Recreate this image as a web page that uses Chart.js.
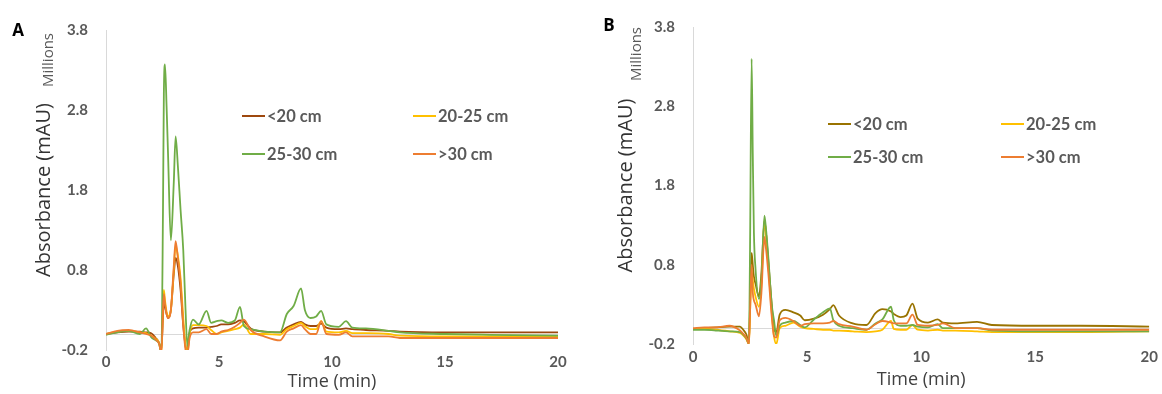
<!DOCTYPE html>
<html>
<head>
<meta charset="utf-8">
<script src="https://cdn.jsdelivr.net/npm/chart.js@4.4.1/dist/chart.umd.min.js"></script>
<style>
  body { margin: 0; background: #fff; width: 1162px; height: 394px; overflow: hidden; position: relative; }
  canvas { position: absolute; top: 0; }
  #chartA { left: 0; }
  #chartB { left: 580px; }
  .tag { position: absolute; font: bold 17px 'Open Sans', sans-serif; color: #000; transform: translate(-50%, -50%); }
  .mil { position: absolute; font: 15px 'Open Sans', sans-serif; color: #595959; transform: translate(-50%, -50%) rotate(-90deg); white-space: nowrap; }
  .leg { position: absolute; font: bold 16.5px Lato, sans-serif; color: #595959; display: flex; align-items: center; white-space: nowrap; transform: translateY(-50%); }
  .leg i { display: inline-block; width: 23px; height: 2px; margin-right: 2px; }
</style>
</head>
<body>
<canvas id="chartA" width="580" height="394"></canvas>
<canvas id="chartB" width="582" height="394"></canvas>

<script>
// étiquettes et couleurs des séries
const seriesLabels = ["<20 cm", "20-25 cm", "25-30 cm", ">30 cm"];
const colorsA = ["#9E480E", "#FFC000", "#70AD47", "#ED7D31"];
const colorsB = ["#997300", "#FFC000", "#70AD47", "#ED7D31"];

// graduations des axes
const yTicks = [-0.2, 0.8, 1.8, 2.8, 3.8];
const xTicks = [0, 5, 10, 15, 20];

// Panneau A : temps (min) et absorbance (millions)
const timeA = [0, 0.5, 1.0, 1.5, 1.77, 2.0, 2.2, 2.35, 2.45, 2.52, 2.56, 2.61, 2.68, 2.75, 2.87, 3.0, 3.08, 3.18, 3.3, 3.42, 3.52, 3.6, 3.7, 3.85, 4.1, 4.45, 4.65, 4.9, 5.1, 5.4, 5.7, 5.93, 6.1, 6.4, 7.0, 7.7, 8.0, 8.3, 8.63, 8.8, 9.05, 9.3, 9.52, 9.75, 10.3, 10.62, 10.9, 11.5, 12.5, 13.0, 15.0, 17.0, 20.0];
const a_lt20 = [0.0, 0.02, 0.03, 0.03, 0.02, 0.01, -0.05, -0.11, -0.2, 0.2, 0.4, 0.35, 0.25, 0.2, 0.3, 0.75, 0.95, 0.85, 0.55, 0.1, -0.15, -0.22, 0.02, 0.07, 0.08, 0.08, 0.09, 0.1, 0.12, 0.12, 0.14, 0.17, 0.16, 0.07, 0.03, 0.02, 0.08, 0.12, 0.15, 0.12, 0.1, 0.1, 0.13, 0.08, 0.06, 0.07, 0.06, 0.05, 0.04, 0.03, 0.02, 0.02, 0.02];
const a_20_25 = [0.0, 0.03, 0.04, 0.02, 0.01, -0.02, -0.06, -0.11, -0.24, 0.35, 0.55, 0.42, 0.28, 0.22, 0.3, 0.8, 1.1, 0.98, 0.7, 0.2, -0.15, -0.25, 0.0, 0.11, 0.11, 0.1, 0.05, 0.0, 0.02, 0.04, 0.06, 0.08, 0.12, 0.0, 0.0, -0.01, 0.06, 0.1, 0.14, 0.1, 0.06, 0.06, 0.16, 0.03, 0.02, 0.04, 0.01, 0.01, 0.0, -0.02, -0.03, -0.03, -0.03];
const a_25_30 = [-0.01, 0.02, 0.04, 0.0, 0.07, -0.04, -0.08, -0.12, -0.24, 1.5, 3.0, 3.37, 2.85, 2.2, 1.17, 1.9, 2.47, 2.1, 1.55, 1.04, 0.3, -0.15, 0.05, 0.18, 0.12, 0.29, 0.14, 0.16, 0.17, 0.14, 0.17, 0.34, 0.1, 0.06, 0.03, 0.02, 0.25, 0.35, 0.57, 0.3, 0.2, 0.22, 0.29, 0.12, 0.09, 0.16, 0.08, 0.07, 0.04, 0.02, 0.0, -0.01, -0.02];
const a_gt30 = [0.0, 0.04, 0.05, 0.02, 0.0, -0.02, -0.07, -0.12, -0.24, 0.3, 0.5, 0.38, 0.25, 0.2, 0.3, 0.85, 1.16, 0.95, 0.64, 0.1, -0.2, -0.25, -0.05, 0.02, 0.02, 0.06, 0.0, 0.0, 0.03, 0.05, 0.09, 0.14, 0.18, 0.05, -0.03, -0.08, 0.03, 0.07, 0.11, 0.06, 0.0, 0.0, 0.16, 0.0, -0.01, 0.02, -0.03, -0.03, -0.03, -0.05, -0.05, -0.05, -0.05];

// Panneau B
const timeB = [0, 0.5, 1.0, 1.6, 2.06, 2.2, 2.34, 2.45, 2.5, 2.57, 2.62, 2.67, 2.74, 2.89, 3.0, 3.13, 3.2, 3.3, 3.45, 3.55, 3.65, 3.8, 4.05, 4.4, 4.7, 4.9, 5.3, 5.7, 6.0, 6.15, 6.4, 7.0, 7.6, 8.0, 8.3, 8.68, 8.8, 9.1, 9.35, 9.62, 9.85, 10.3, 10.72, 10.95, 11.5, 12.45, 13.1, 15, 17, 20];
const b_lt20 = [-0.01, 0.0, 0.01, 0.02, 0.02, -0.02, -0.08, -0.19, 0.3, 0.95, 0.8, 0.65, 0.56, 0.4, 0.7, 1.35, 1.2, 0.85, 0.3, -0.02, -0.05, 0.17, 0.23, 0.2, 0.16, 0.1, 0.12, 0.17, 0.24, 0.29, 0.16, 0.06, 0.04, 0.19, 0.24, 0.21, 0.18, 0.14, 0.16, 0.31, 0.12, 0.07, 0.11, 0.07, 0.06, 0.08, 0.04, 0.03, 0.03, 0.02];
const b_20_25 = [-0.01, -0.01, -0.02, -0.04, -0.06, -0.09, -0.14, -0.2, 0.2, 0.7, 0.6, 0.5, 0.4, 0.27, 0.55, 1.36, 1.2, 0.8, 0.2, -0.1, -0.2, 0.0, 0.03, 0.07, 0.02, 0.0, -0.01, -0.02, -0.02, -0.03, -0.03, -0.04, -0.05, -0.04, -0.02, 0.09, -0.01, -0.02, -0.02, 0.04, -0.02, -0.03, -0.02, -0.03, -0.03, -0.04, -0.05, -0.05, -0.05, -0.04];
const b_25_30 = [-0.02, -0.02, -0.03, -0.04, -0.05, -0.08, -0.13, -0.2, 1.0, 3.4, 2.2, 1.2, 0.75, 0.37, 0.6, 1.42, 1.25, 0.9, 0.3, 0.1, -0.1, 0.03, 0.07, 0.09, 0.04, 0.01, 0.11, 0.2, 0.25, 0.1, 0.03, 0.0, -0.02, 0.06, 0.11, 0.27, 0.1, 0.03, 0.03, 0.04, 0.02, 0.01, 0.05, 0.0, 0.0, 0.0, -0.03, -0.04, -0.04, -0.04];
const b_gt30 = [0.0, 0.01, 0.01, 0.03, -0.03, -0.07, -0.12, -0.2, 0.2, 0.8, 0.45, 0.35, 0.3, 0.15, 0.45, 1.15, 1.0, 0.7, 0.15, -0.1, -0.12, 0.1, 0.13, 0.09, 0.03, 0.05, 0.06, 0.06, 0.07, 0.09, 0.05, 0.02, -0.02, 0.05, 0.09, 0.07, 0.06, 0.06, 0.06, 0.17, 0.04, 0.03, 0.04, 0.06, 0.0, 0.0, -0.02, -0.02, -0.02, -0.02];

// ligne grise horizontale à y = 0
const zeroLine = {
    id: "zeroLine",
    beforeDatasetsDraw(chart) {
        const { ctx, chartArea, scales } = chart;
        const y = Math.round(scales.y.getPixelForValue(0)) + 0.5;
        ctx.save();
        ctx.strokeStyle = "#D9D9D9";
        ctx.lineWidth = 1;
        ctx.beginPath();
        ctx.moveTo(chartArea.left, y);
        ctx.lineTo(chartArea.right, y);
        ctx.stroke();
        ctx.restore();
    }
};

function makeChart(id, times, series, colors, box) {
    const datasets = series.map((vals, i) => ({
        label: seriesLabels[i],
        data: vals.map((v, k) => ({ x: times[k], y: v })),
        borderColor: colors[i],
        borderWidth: 1.8,
        pointRadius: 0,
        fill: false,
        cubicInterpolationMode: "monotone",
        order: series.length - i
    }));
    const tickFont = { family: "Lato", size: 15, weight: "bold" };
    return new Chart(document.getElementById(id), {
        type: "line",
        data: { datasets },
        plugins: [zeroLine],
        options: {
            responsive: false,
            devicePixelRatio: 1,
            animation: false,
            layout: { padding: { left: 0, top: box.top, right: box.width - box.right, bottom: 0 } },
            plugins: { legend: { display: false }, tooltip: { enabled: false } },
            scales: {
                x: {
                    type: "linear",
                    min: 0, max: 20,
                    afterBuildTicks: s => { s.ticks = xTicks.map(v => ({ value: v })); },
                    afterFit: s => { s.height = 394 - box.bottom; },
                    grid: { display: false, drawTicks: false },
                    border: { display: false },
                    ticks: { font: tickFont, color: "#595959", padding: box.xPad, maxRotation: 0 },
                    title: { display: true, text: "Time (min)", color: "#404040",
                             font: { family: "Open Sans", size: 18 }, padding: { top: 0, bottom: box.xTitlePad } }
                },
                y: {
                    min: -0.2, max: 3.8,
                    afterBuildTicks: s => { s.ticks = yTicks.map(v => ({ value: v })); },
                    afterFit: s => { s.width = box.left; },
                    grid: { display: false, drawTicks: false },
                    border: { display: true, color: "#D9D9D9", width: 1 },
                    ticks: { font: tickFont, color: "#595959", padding: 18, callback: v => v.toFixed(1) },
                    title: { display: true, text: "Absorbance (mAU)", color: "#333333",
                             font: { family: "Open Sans", size: 20 }, padding: { top: box.yTitlePad, bottom: 0 } }
                }
            }
        }
    });
}

makeChart("chartA", timeA, [a_lt20, a_20_25, a_25_30, a_gt30], colorsA,
    { left: 106, right: 558, top: 30, bottom: 350, width: 580, xPad: 3, xTitlePad: 1, yTitlePad: 32 });
makeChart("chartB", timeB, [b_lt20, b_20_25, b_25_30, b_gt30], colorsB,
    { left: 113, right: 570, top: 24, bottom: 344, width: 582, xPad: 4, xTitlePad: 3, yTitlePad: 34 });

// textes HTML : lettres des panneaux, "Millions" et légendes
function addText(cls, html, left, top) {
    const d = document.createElement("div");
    d.className = cls;
    d.innerHTML = html;
    d.style.left = left + "px";
    d.style.top = top + "px";
    document.body.appendChild(d);
}
addText("tag", "A", 18, 29);
addText("tag", "B", 609, 24);
addText("mil", "Millions", 47, 60);
addText("mil", "Millions", 635, 54);

function addLegend(colors, cols, rows) {
    seriesLabels.forEach((lab, i) => {
        const d = document.createElement("div");
        d.className = "leg";
        const sw = document.createElement("i");
        sw.style.background = colors[i];
        d.appendChild(sw);
        d.appendChild(document.createTextNode(lab));
        d.style.left = cols[i % 2] + "px";
        d.style.top = rows[Math.floor(i / 2)] + "px";
        document.body.appendChild(d);
    });
}
addLegend(colorsA, [242, 413], [116, 154]);
addLegend(colorsB, [828, 1001], [124, 157]);
</script>
</body>
</html>
